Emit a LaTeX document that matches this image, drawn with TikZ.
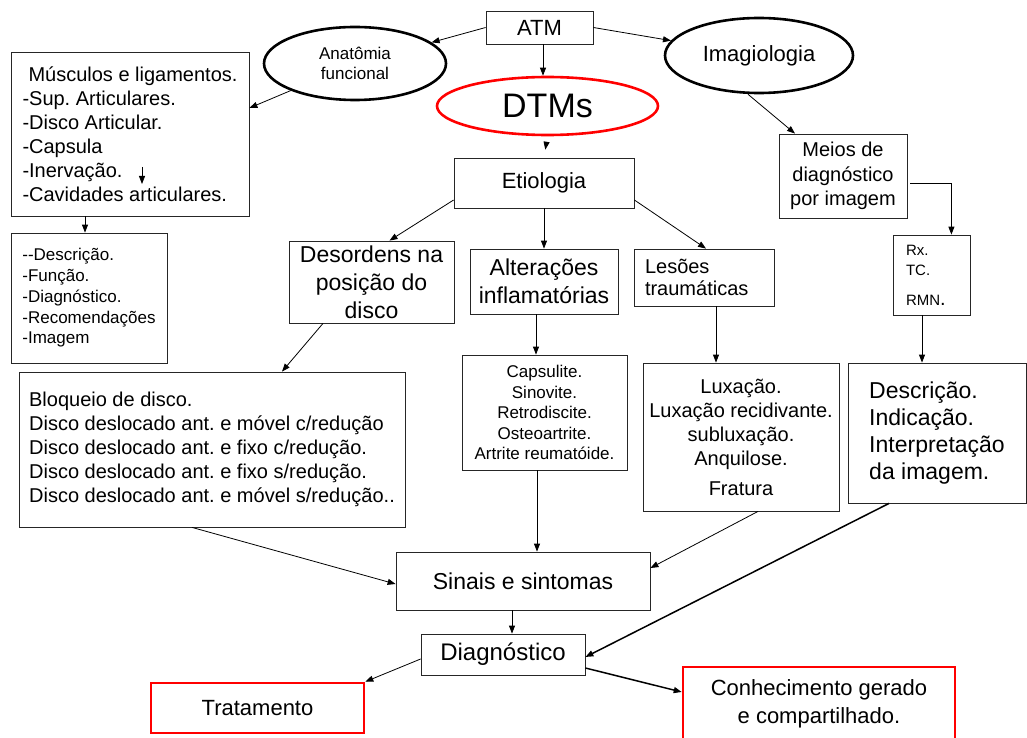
\documentclass[tikz,border=0pt]{standalone}
\usepackage{fontspec}
\setmainfont{Liberation Sans}
\usetikzlibrary{shapes.geometric,arrows.meta}
\newcommand{\fsz}[2]{\fontsize{#1pt}{#2pt}\selectfont}
\frenchspacing
\begin{document}
\begin{tikzpicture}[x=1pt,y=-1pt]
\tikzset{
  box/.style={draw=black!85, line width=0.8pt, inner sep=0pt, align=center},
  lbox/.style={box, align=left},
  redbox/.style={draw=red, line width=2.6pt, inner sep=0pt, align=center},
  oval/.style={ellipse, draw=black, line width=2.6pt, inner sep=0pt, align=center},
  redoval/.style={oval, draw=red},
  arr/.style={-{Triangle[length=8pt,width=6pt]}, line width=0.8pt},
  thickarr/.style={arr, line width=1.5pt},
}
\useasboundingbox (0,0) rectangle (1027,738);

% top level
\node[box, minimum width=107pt, minimum height=33pt, font=\fsz{22}{26}] (atm) at (539.5,27.5) {ATM};
\node[oval, minimum width=182pt, minimum height=73pt, font=\fsz{17}{19.5}] (anat) at (355,63.5) {Anatômia\\funcional};
\node[oval, minimum width=188pt, minimum height=75pt, font=\fsz{22}{26}] (imag) at (759,55.5) {Imagiologia};
\node[redoval, minimum width=221pt, minimum height=58pt, font=\fsz{34}{38}] (dtm) at (547.5,106) {DTMs};

% anatomy branch
\node[lbox, minimum width=238pt, minimum height=164pt, font=\fsz{20}{24}] (musc) at (130,134)
  {\hspace*{6pt}Músculos e ligamentos.\\-Sup. Articulares.\\-Disco Articular.\\-Capsula\\-Inervação.\\-Cavidades articulares.};
\node[lbox, minimum width=156pt, minimum height=130pt, font=\fsz{17}{20.7}] (desca) at (89,298)
  {-{}-Descrição.\\-Função.\\-Diagnóstico.\\-Recomendações\\-Imagem};
\coordinate (ia) at (142,167);
\coordinate (ib) at (142,184);

% etiology branch
\node[box, minimum width=180pt, minimum height=50pt, font=\fsz{22}{26}] (etio) at (544,183) {Etiologia};
\node[box, minimum width=165pt, minimum height=82pt, font=\fsz{23}{28}] (desord) at (371.5,282) {Desordens na\\posição do\\disco};
\node[box, minimum width=148pt, minimum height=65pt, font=\fsz{23}{28}] (alter) at (544,281.5) {Alterações\\inflamatórias};
\node[lbox, text width=118pt, inner xsep=11pt, minimum height=57pt, font=\fsz{20}{22}] (les) at (704,277.5) {Lesões\\traumáticas};
\node[lbox, minimum width=386pt, minimum height=155pt, font=\fsz{20}{24}] (bloq) at (212,449.5)
  {Bloqueio de disco.\\Disco deslocado ant. e móvel c/redução\\Disco deslocado ant. e fixo c/redução.\\Disco deslocado ant. e fixo s/redução.\\Disco deslocado ant. e móvel s/redução..};
\node[box, minimum width=165pt, minimum height=115pt, font=\fsz{17}{20.5}] (caps) at (544.5,412.5)
  {Capsulite.\\Sinovite.\\Retrodiscite.\\Osteoartrite.\\Artrite reumatóide.};
\node[box, minimum width=196pt, minimum height=148pt, font=\fsz{20}{24}] (lux) at (741,437)
  {Luxação.\\Luxação recidivante.\\subluxação.\\Anquilose.\\[6pt]Fratura};

% imaging branch
\node[box, minimum width=128pt, minimum height=84pt, font=\fsz{20}{24.5}] (meios) at (843,176) {Meios de\\diagnóstico\\por imagem};
\node[lbox, text width=51pt, inner xsep=13pt, minimum height=80pt, font=\fsz{15}{20}] (rx) at (931.5,275)
  {Rx.\\TC.\\[10pt]RMN{\fsz{20}{20}.}};
\node[lbox, minimum width=178pt, minimum height=140pt, font=\fsz{23}{27}] (descr) at (937,433)
  {Descrição.\\Indicação.\\Interpretação\\da imagem.};

% bottom
\node[box, minimum width=254pt, minimum height=58pt, font=\fsz{23}{27}] (sinais) at (523,581) {Sinais e sintomas};
\node[box, minimum width=164pt, minimum height=41pt, font=\fsz{24}{28}] (diag) at (503,654.5) {Diagnóstico};
\node[redbox, minimum width=213pt, minimum height=50pt, font=\fsz{22}{26}] (trat) at (257.5,708) {Tratamento};
\node[redbox, minimum width=272pt, minimum height=74pt, font=\fsz{22}{28}] (conh) at (819,704) {Conhecimento gerado\\e compartilhado.};

% connectors
\draw[arr] (atm.west) -- (anat);
\draw[arr] (atm.east) -- (imag);
\draw[arr] ([xshift=3.5pt]atm.south) -- ([xshift=3.5pt]atm.south |- dtm.north);
\draw[arr, shorten <=8pt, shorten >=8pt] (dtm.south) -- (etio.north);
\draw[arr] (anat) -- ([yshift=26pt]musc.east);
\draw[arr] (ia) -- (ib);
\draw[arr] ([xshift=-45pt]musc.south) -- ([xshift=-45pt]musc.south |- desca.north);
\draw[arr] ([xshift=-11pt]imag.south) -- ([xshift=-48pt]meios.north);
\draw[arr] ([xshift=3pt,yshift=-7pt]meios.east) -| ([xshift=-19pt]rx.north east);
\draw[arr] ([yshift=-17pt]etio.west) -- ([xshift=18pt]desord.north);
\draw[arr] (etio.south) -- (alter.north);
\draw[arr] ([yshift=-17pt]etio.east) -- ([xshift=2pt]les.north);
\draw[arr] ([xshift=-48.5pt]desord.south) -- ([xshift=70pt]bloq.north);
\draw[arr] ([xshift=-8pt]alter.south) -- ([xshift=-8pt]alter.south |- caps.north);
\draw[arr] ([xshift=12pt]les.south) -- ([xshift=12pt]les.south |- lux.north);
\draw[arr] ([xshift=-9.5pt]rx.south) -- ([xshift=-9.5pt]rx.south |- descr.north);
\draw[arr] ([xshift=-7.5pt]caps.south) -- ([xshift=-7.5pt]caps.south |- sinais.north);
\draw[arr] ([xshift=-20pt]bloq.south) -- ([yshift=-3pt]sinais.west);
\draw[arr] ([xshift=17pt]lux.south) -- ([yshift=13pt]sinais.east);
\draw[thickarr] ([xshift=-48pt]descr.south) -- ([yshift=-2.5pt]diag.east);
\draw[arr] ([xshift=-11pt]sinais.south) -- ([xshift=-11pt]sinais.south |- diag.north);
\draw[arr] ([yshift=-4.5pt]diag.west) -- (trat.north east);
\draw[thickarr] ([yshift=-13.5pt]diag.east) -- ([yshift=12pt]conh.west);
\end{tikzpicture}
\end{document}
